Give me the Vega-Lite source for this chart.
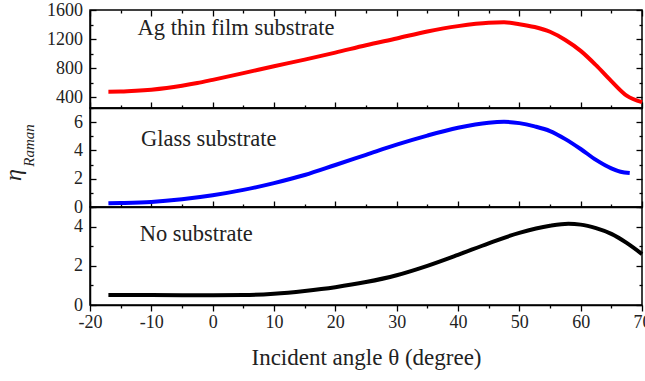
{
  "$schema": "https://vega.github.io/schema/vega-lite/v6.json",
  "padding": {"left": 0, "top": 0, "right": 0, "bottom": 5},
  "background": "white",
  "spacing": 0,
  "bounds": "flush",
  "config": {
    "font": "Liberation Serif",
    "view": {"stroke": "black", "strokeWidth": 1.5},
    "concat": {"spacing": 0},
    "axis": {
      "domainColor": "black", "domainWidth": 1.5, "tickColor": "black", "tickWidth": 1.3,
      "labelColor": "#222", "labelFont": "Liberation Serif", "labelFontSize": 18,
      "grid": false, "titleFont": "Liberation Serif", "titleFontWeight": "normal", "titleColor": "#222",
      "labelOverlap": false, "labelFlush": false
    }
  },
  "datasets": {
    "ag": [
      {"angle": -17, "eta": 475}, {"angle": -15, "eta": 477}, {"angle": -12.5, "eta": 487}, {"angle": -10, "eta": 503},
      {"angle": -7.5, "eta": 526}, {"angle": -5, "eta": 557}, {"angle": -2.5, "eta": 594},
      {"angle": 0, "eta": 638}, {"angle": 5, "eta": 730}, {"angle": 10, "eta": 825}, {"angle": 15, "eta": 917},
      {"angle": 20, "eta": 1013}, {"angle": 25, "eta": 1115}, {"angle": 30, "eta": 1208}, {"angle": 35, "eta": 1304},
      {"angle": 40, "eta": 1378}, {"angle": 45, "eta": 1425}, {"angle": 47.5, "eta": 1430}, {"angle": 50, "eta": 1405},
      {"angle": 52.5, "eta": 1365}, {"angle": 55, "eta": 1300}, {"angle": 57.5, "eta": 1187}, {"angle": 60, "eta": 1037},
      {"angle": 62.5, "eta": 840}, {"angle": 65, "eta": 621}, {"angle": 67.5, "eta": 420}, {"angle": 70, "eta": 331}
    ],
    "glass": [
      {"angle": -17, "eta": 0.26}, {"angle": -15, "eta": 0.28}, {"angle": -10, "eta": 0.36}, {"angle": -5, "eta": 0.55},
      {"angle": 0, "eta": 0.83}, {"angle": 5, "eta": 1.21}, {"angle": 10, "eta": 1.69}, {"angle": 15, "eta": 2.26},
      {"angle": 20, "eta": 2.97}, {"angle": 25, "eta": 3.69}, {"angle": 30, "eta": 4.41}, {"angle": 35, "eta": 5.05},
      {"angle": 40, "eta": 5.6}, {"angle": 45, "eta": 5.96}, {"angle": 47.5, "eta": 6.02}, {"angle": 50, "eta": 5.93},
      {"angle": 52.5, "eta": 5.7}, {"angle": 55, "eta": 5.37}, {"angle": 57.5, "eta": 4.8}, {"angle": 60, "eta": 4.1},
      {"angle": 62.5, "eta": 3.33}, {"angle": 65, "eta": 2.73}, {"angle": 66.5, "eta": 2.49}, {"angle": 68, "eta": 2.4}
    ],
    "none": [
      {"angle": -17, "eta": 0.51}, {"angle": -10, "eta": 0.51}, {"angle": -5, "eta": 0.5}, {"angle": 0, "eta": 0.5},
      {"angle": 5, "eta": 0.51}, {"angle": 10, "eta": 0.58}, {"angle": 15, "eta": 0.72}, {"angle": 20, "eta": 0.91},
      {"angle": 25, "eta": 1.17}, {"angle": 30, "eta": 1.52}, {"angle": 35, "eta": 2.0}, {"angle": 40, "eta": 2.56},
      {"angle": 45, "eta": 3.15}, {"angle": 50, "eta": 3.68}, {"angle": 55, "eta": 4.04}, {"angle": 58, "eta": 4.14},
      {"angle": 60, "eta": 4.1}, {"angle": 62.5, "eta": 3.92}, {"angle": 65, "eta": 3.63}, {"angle": 67.5, "eta": 3.17},
      {"angle": 70, "eta": 2.6}
    ]
  },
  "vconcat": [
    {
      "width": 552, "height": 98,
      "layer": [
        {
          "data": {"name": "ag"},
          "mark": {"type": "line", "color": "#ff0000", "strokeWidth": 4, "interpolate": "monotone"},
          "encoding": {
            "x": {"field": "angle", "type": "quantitative", "scale": {"domain": [-20, 70], "nice": false, "zero": false},
              "axis": {"orient": "bottom", "values": [-20,-15,-10,-5,0,5,10,15,20,25,30,35,40,45,50,55,60,65,70], "labels": false, "title": null,
                "tickSize": {"condition": {"test": "datum.value % 10 === 0", "value": -6}, "value": -3}}},
            "y": {"field": "eta", "type": "quantitative", "scale": {"domain": [250, 1600], "nice": false, "zero": false},
              "axis": {"orient": "left", "values": [400,600,800,1000,1200,1400,1600], "format": "d", "title": null, "labelPadding": 13.5,
                "labelExpr": "datum.value % 400 === 0 ? datum.label : ''",
                "tickSize": {"condition": {"test": "datum.value % 400 === 0", "value": -6}, "value": -3}}}
          }
        },
        {
          "data": {"values": [{"angle": -12.25, "eta": 1254, "label": "Ag thin film substrate"}]},
          "mark": {"type": "text", "align": "left", "baseline": "alphabetic", "fontSize": 22.5, "font": "Liberation Serif", "color": "#222"},
          "encoding": {
            "x": {"field": "angle", "type": "quantitative", "scale": {"domain": [-20, 70], "nice": false, "zero": false},
              "axis": {"orient": "top", "values": [-20,-15,-10,-5,0,5,10,15,20,25,30,35,40,45,50,55,60,65,70], "labels": false, "title": null, "domain": false,
                "tickSize": {"condition": {"test": "datum.value % 10 === 0", "value": -6}, "value": -3}}},
            "y": {"field": "eta", "type": "quantitative", "scale": {"domain": [250, 1600], "nice": false, "zero": false},
              "axis": {"orient": "right", "values": [400,600,800,1000,1200,1400,1600], "labels": false, "title": null, "domain": false,
                "tickSize": {"condition": {"test": "datum.value % 400 === 0", "value": -6}, "value": -3}}},
            "text": {"field": "label"}
          }
        }
      ],
      "resolve": {"axis": {"x": "independent", "y": "independent"}}
    },
    {
      "width": 552, "height": 99,
      "layer": [
        {
          "data": {"name": "glass"},
          "mark": {"type": "line", "color": "#0000ff", "strokeWidth": 4, "interpolate": "monotone"},
          "encoding": {
            "x": {"field": "angle", "type": "quantitative", "scale": {"domain": [-20, 70], "nice": false, "zero": false},
              "axis": {"orient": "bottom", "values": [-20,-15,-10,-5,0,5,10,15,20,25,30,35,40,45,50,55,60,65,70], "labels": false, "title": null,
                "tickSize": {"condition": {"test": "datum.value % 10 === 0", "value": -6}, "value": -3}}},
            "y": {"field": "eta", "type": "quantitative", "scale": {"domain": [0, 7], "nice": false, "zero": false},
              "axis": {"orient": "left", "values": [0,1,2,3,4,5,6,7], "format": "d", "title": null, "labelPadding": 13.5,
                "labelExpr": "datum.value % 2 === 0 ? datum.label : ''",
                "tickSize": {"condition": {"test": "datum.value % 2 === 0", "value": -6}, "value": -3}}}
          }
        },
        {
          "data": {"values": [{"angle": -11.7, "eta": 4.34, "label": "Glass substrate"}]},
          "mark": {"type": "text", "align": "left", "baseline": "alphabetic", "fontSize": 22.5, "font": "Liberation Serif", "color": "#222"},
          "encoding": {
            "x": {"field": "angle", "type": "quantitative", "scale": {"domain": [-20, 70], "nice": false, "zero": false}, "axis": null},
            "y": {"field": "eta", "type": "quantitative", "scale": {"domain": [0, 7], "nice": false, "zero": false},
              "axis": {"orient": "right", "values": [0,1,2,3,4,5,6,7], "labels": false, "title": null, "domain": false,
                "tickSize": {"condition": {"test": "datum.value % 2 === 0", "value": -6}, "value": -3}}},
            "text": {"field": "label"}
          }
        },
        {
          "data": {"values": [{"angle": -31.3, "eta": 2.26, "label": "η"}]},
          "mark": {"type": "text", "align": "center", "baseline": "alphabetic", "angle": 270, "fontSize": 24, "fontStyle": "italic", "font": "Liberation Serif", "color": "#222"},
          "encoding": {
            "x": {"field": "angle", "type": "quantitative", "scale": {"domain": [-20, 70], "nice": false, "zero": false}, "axis": null},
            "y": {"field": "eta", "type": "quantitative", "scale": {"domain": [0, 7], "nice": false, "zero": false}, "axis": null},
            "text": {"field": "label"}
          }
        },
        {
          "data": {"values": [{"angle": -29.2, "eta": 2.85, "label": "Raman"}]},
          "mark": {"type": "text", "align": "left", "baseline": "alphabetic", "angle": 270, "fontSize": 15, "fontStyle": "italic", "font": "Liberation Serif", "color": "#222"},
          "encoding": {
            "x": {"field": "angle", "type": "quantitative", "scale": {"domain": [-20, 70], "nice": false, "zero": false}, "axis": null},
            "y": {"field": "eta", "type": "quantitative", "scale": {"domain": [0, 7], "nice": false, "zero": false}, "axis": null},
            "text": {"field": "label"}
          }
        }
      ],
      "resolve": {"axis": {"x": "independent", "y": "independent"}}
    },
    {
      "width": 552, "height": 98,
      "layer": [
        {
          "data": {"name": "none"},
          "mark": {"type": "line", "color": "#000000", "strokeWidth": 4, "interpolate": "monotone"},
          "encoding": {
            "x": {"field": "angle", "type": "quantitative", "scale": {"domain": [-20, 70], "nice": false, "zero": false},
              "axis": {"orient": "bottom", "values": [-20,-15,-10,-5,0,5,10,15,20,25,30,35,40,45,50,55,60,65,70], "format": "d",
                "labelExpr": "datum.value % 10 === 0 ? toString(datum.value) : ''", "labelPadding": 2,
                "title": "Incident angle θ (degree)", "titleFontSize": 23, "titlePadding": 15,
                "tickSize": {"condition": {"test": "datum.value % 10 === 0", "value": 6}, "value": 3}}},
            "y": {"field": "eta", "type": "quantitative", "scale": {"domain": [0, 5], "nice": false, "zero": false},
              "axis": {"orient": "left", "values": [0,1,2,3,4,5], "format": "d", "title": null, "labelPadding": 13.5,
                "labelExpr": "datum.value % 2 === 0 ? datum.label : ''",
                "tickSize": {"condition": {"test": "datum.value % 2 === 0", "value": -6}, "value": -3}}}
          }
        },
        {
          "data": {"values": [{"angle": -11.9, "eta": 3.28, "label": "No substrate"}]},
          "mark": {"type": "text", "align": "left", "baseline": "alphabetic", "fontSize": 22.5, "font": "Liberation Serif", "color": "#222"},
          "encoding": {
            "x": {"field": "angle", "type": "quantitative", "scale": {"domain": [-20, 70], "nice": false, "zero": false}, "axis": null},
            "y": {"field": "eta", "type": "quantitative", "scale": {"domain": [0, 5], "nice": false, "zero": false},
              "axis": {"orient": "right", "values": [0,1,2,3,4,5], "labels": false, "title": null, "domain": false,
                "tickSize": {"condition": {"test": "datum.value % 2 === 0", "value": -6}, "value": -3}}},
            "text": {"field": "label"}
          }
        }
      ],
      "resolve": {"axis": {"x": "independent", "y": "independent"}}
    }
  ]
}
